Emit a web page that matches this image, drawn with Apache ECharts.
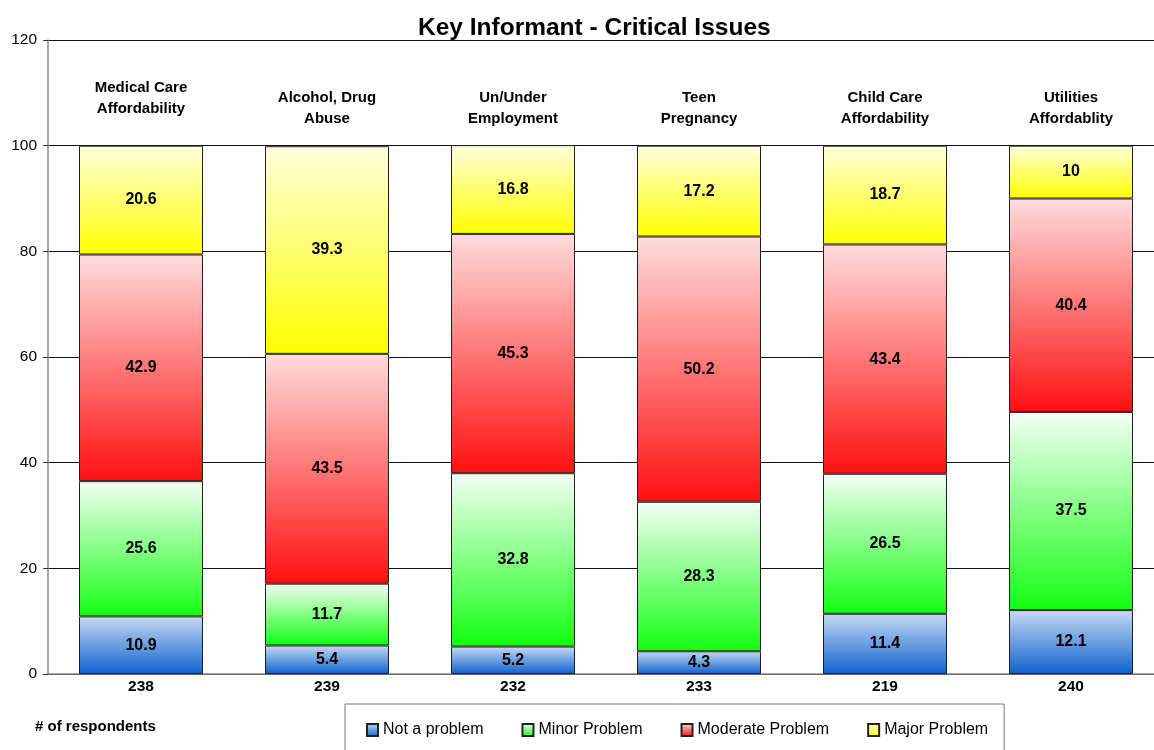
<!DOCTYPE html>
<html>
<head>
<meta charset="utf-8">
<title>Key Informant - Critical Issues</title>
<script src="https://cdn.jsdelivr.net/npm/echarts@6/dist/echarts.min.js"></script>
<style>
  html, body { margin: 0; padding: 0; background: #fff; overflow: hidden; }
  /* plot runs slightly past the right edge of the window, like the original */
  #chart { width: 1164px; height: 750px; }
</style>
</head>
<body>
<div id="chart"></div>
<script>
const issues = [
  "Medical Care\nAffordability",
  "Alcohol, Drug\nAbuse",
  "Un/Under\nEmployment",
  "Teen\nPregnancy",
  "Child Care\nAffordability",
  "Utilities\nAffordablity"
];
const respondents = ["238", "239", "232", "233", "219", "240"];

const notProblem = [10.9, 5.4, 5.2, 4.3, 11.4, 12.1];
const minorProblem = [25.6, 11.7, 32.8, 28.3, 26.5, 37.5];
const moderateProblem = [42.9, 43.5, 45.3, 50.2, 43.4, 40.4];
const majorProblem = [20.6, 39.3, 16.8, 17.2, 18.7, 10];

const FONT = "'Liberation Sans', Arial, sans-serif";

const grad = (top, bottom) =>
  new echarts.graphic.LinearGradient(0, 0, 0, 1, [
    { offset: 0, color: top },
    { offset: 1, color: bottom }
  ]);

const makeSeries = (name, data, top, bottom) => ({
  name: name,
  type: "bar",
  stack: "total",
  barWidth: 124,
  data: data,
  itemStyle: {
    color: grad(top, bottom),
    borderColor: "#222",
    borderWidth: 1
  },
  label: {
    show: true,
    position: "inside",
    color: "#000",
    fontFamily: FONT,
    fontWeight: "bold",
    fontSize: 16
  }
});

// first issue label sits a bit higher in the original
const issueLabels = issues.map((name, i) =>
  i === 0 ? { value: name, textStyle: { padding: [0, 0, 10, 0] } } : name
);

const chart = echarts.init(document.getElementById("chart"));
chart.setOption({
  animation: false,
  textStyle: { fontFamily: FONT },
  title: {
    text: "Key Informant - Critical Issues",
    left: 413,
    top: 11,
    textStyle: { fontFamily: FONT, fontWeight: "bold", fontSize: 24.5, color: "#000" }
  },
  legend: {
    left: 345,
    top: 704,
    padding: [18, 16, 30, 21],
    itemGap: 38,
    itemWidth: 11,
    itemHeight: 12,
    icon: "rect",
    borderColor: "#777",
    borderWidth: 1,
    textStyle: { fontFamily: FONT, fontSize: 16, color: "#000" }
  },
  graphic: [
    {
      type: "text",
      left: 35,
      top: 719,
      style: { text: "# of respondents", font: "bold 15px " + FONT, fill: "#000" }
    }
  ],
  grid: { left: 48, top: 40, width: 1116, bottom: 76 },
  xAxis: [
    {
      type: "category",
      data: respondents,
      axisLine: { lineStyle: { color: "#888", width: 1.5 } },
      axisTick: { show: false },
      axisLabel: { margin: 5, color: "#000", fontWeight: "bold", fontSize: 15.5, fontFamily: FONT }
    },
    {
      type: "category",
      position: "top",
      offset: -97,
      data: issueLabels,
      axisLine: { show: false },
      axisTick: { show: false },
      axisLabel: {
        margin: 8,
        color: "#000",
        fontWeight: "bold",
        fontSize: 15,
        lineHeight: 21,
        fontFamily: FONT
      }
    }
  ],
  yAxis: {
    type: "value",
    min: 0,
    max: 120,
    interval: 20,
    axisLine: { show: true, lineStyle: { color: "#888", width: 1.5 } },
    axisTick: { show: true, length: 5, lineStyle: { color: "#333" } },
    axisLabel: { margin: 11, color: "#000", fontSize: 15.5, fontFamily: FONT },
    splitLine: { lineStyle: { color: "#111", width: 1 } }
  },
  series: [
    makeSeries("Not a problem", notProblem, "#c6daf2", "#0f62cf"),
    makeSeries("Minor Problem", minorProblem, "#f4fff4", "#12ff12"),
    makeSeries("Moderate Problem", moderateProblem, "#ffdcdc", "#ff1010"),
    makeSeries("Major Problem", majorProblem, "#ffffdc", "#ffff00")
  ]
});
</script>
</body>
</html>
